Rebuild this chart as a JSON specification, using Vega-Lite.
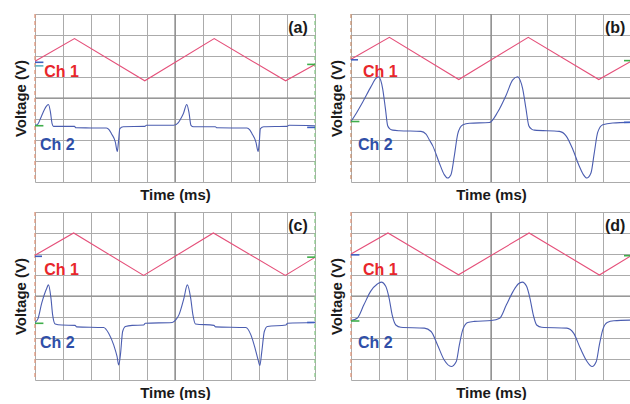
{
  "$schema": "https://vega.github.io/schema/vega-lite/v6.json",
  "padding": {"left": 13, "top": 13, "right": 0, "bottom": 0},
  "background": "white",
  "config": {
    "view": {"stroke": null},
    "font": "Liberation Sans",
    "axis": {"labels": false, "ticks": false, "domain": false, "grid": true, "gridColor": "#ababab", "gridWidth": 1, "titleFont": "Liberation Sans", "titleFontSize": 15, "titleFontWeight": "bold", "titleColor": "#1a1a1a"},
    "axisX": {"titlePadding": 5, "tickCount": 10},
    "axisY": {"titlePadding": 7, "tickCount": 8}
  },
  "data": {"values": [
    {"p":"a","c":"lbl","t":"(a)"},
    {"p":"b","c":"lbl","t":"(b)"},
    {"p":"c","c":"lbl","t":"(c)"},
    {"p":"d","c":"lbl","t":"(d)"},
    {"p":"a","c":"ch1","x":0,"y":5.75},{"p":"a","c":"ch1","x":1.41,"y":6.83},{"p":"a","c":"ch1","x":3.92,"y":4.82},{"p":"a","c":"ch1","x":6.40,"y":6.83},{"p":"a","c":"ch1","x":8.95,"y":4.82},{"p":"a","c":"ch1","x":10,"y":5.6},
    {"p":"b","c":"ch1","x":0,"y":5.85},{"p":"b","c":"ch1","x":1.37,"y":6.89},{"p":"b","c":"ch1","x":3.85,"y":4.88},{"p":"b","c":"ch1","x":6.33,"y":6.89},{"p":"b","c":"ch1","x":8.85,"y":4.88},{"p":"b","c":"ch1","x":10,"y":5.75},
    {"p":"c","c":"ch1","x":0,"y":5.94},{"p":"c","c":"ch1","x":1.38,"y":7.0},{"p":"c","c":"ch1","x":3.88,"y":4.98},{"p":"c","c":"ch1","x":6.37,"y":7.0},{"p":"c","c":"ch1","x":8.94,"y":4.98},{"p":"c","c":"ch1","x":10,"y":5.84},
    {"p":"d","c":"ch1","x":0,"y":6.0},{"p":"d","c":"ch1","x":1.32,"y":7.0},{"p":"d","c":"ch1","x":3.84,"y":5.01},{"p":"d","c":"ch1","x":6.36,"y":7.0},{"p":"d","c":"ch1","x":8.87,"y":5.0},{"p":"d","c":"ch1","x":10,"y":5.92},

    {"p":"a","c":"ch2","x":0,"y":2.70},{"p":"a","c":"ch2","x":0.1,"y":2.76},{"p":"a","c":"ch2","x":0.22,"y":3.10},{"p":"a","c":"ch2","x":0.39,"y":3.58},{"p":"a","c":"ch2","x":0.48,"y":3.69},{"p":"a","c":"ch2","x":0.55,"y":3.34},{"p":"a","c":"ch2","x":0.61,"y":2.78},{"p":"a","c":"ch2","x":0.66,"y":2.65},{"p":"a","c":"ch2","x":1.41,"y":2.65},{"p":"a","c":"ch2","x":1.46,"y":2.58},{"p":"a","c":"ch2","x":2.55,"y":2.57},{"p":"a","c":"ch2","x":2.65,"y":2.48},{"p":"a","c":"ch2","x":2.73,"y":2.30},{"p":"a","c":"ch2","x":2.87,"y":1.90},{"p":"a","c":"ch2","x":2.94,"y":1.45},{"p":"a","c":"ch2","x":2.98,"y":1.9},{"p":"a","c":"ch2","x":3.03,"y":2.54},{"p":"a","c":"ch2","x":3.15,"y":2.63},{"p":"a","c":"ch2","x":3.92,"y":2.65},{"p":"a","c":"ch2","x":3.98,"y":2.70},{"p":"a","c":"ch2","x":4.95,"y":2.70},{"p":"a","c":"ch2","x":5.12,"y":2.83},{"p":"a","c":"ch2","x":5.22,"y":3.05},{"p":"a","c":"ch2","x":5.30,"y":3.26},{"p":"a","c":"ch2","x":5.42,"y":3.69},{"p":"a","c":"ch2","x":5.50,"y":3.3},{"p":"a","c":"ch2","x":5.57,"y":2.70},{"p":"a","c":"ch2","x":5.66,"y":2.63},{"p":"a","c":"ch2","x":6.44,"y":2.63},{"p":"a","c":"ch2","x":6.50,"y":2.58},{"p":"a","c":"ch2","x":7.57,"y":2.57},{"p":"a","c":"ch2","x":7.67,"y":2.48},{"p":"a","c":"ch2","x":7.75,"y":2.30},{"p":"a","c":"ch2","x":7.89,"y":1.90},{"p":"a","c":"ch2","x":7.97,"y":1.45},{"p":"a","c":"ch2","x":8.01,"y":1.9},{"p":"a","c":"ch2","x":8.05,"y":2.54},{"p":"a","c":"ch2","x":8.17,"y":2.63},{"p":"a","c":"ch2","x":9.0,"y":2.65},{"p":"a","c":"ch2","x":9.07,"y":2.70},{"p":"a","c":"ch2","x":10,"y":2.68},

    {"p":"b","c":"ch2","x":0,"y":2.88},{"p":"b","c":"ch2","x":0.2,"y":3.3},{"p":"b","c":"ch2","x":0.42,"y":3.81},{"p":"b","c":"ch2","x":0.71,"y":4.53},{"p":"b","c":"ch2","x":0.89,"y":4.93},{"p":"b","c":"ch2","x":0.99,"y":5.01},{"p":"b","c":"ch2","x":1.06,"y":4.85},{"p":"b","c":"ch2","x":1.13,"y":4.45},{"p":"b","c":"ch2","x":1.23,"y":3.48},{"p":"b","c":"ch2","x":1.31,"y":2.68},{"p":"b","c":"ch2","x":1.40,"y":2.52},{"p":"b","c":"ch2","x":1.49,"y":2.47},{"p":"b","c":"ch2","x":1.73,"y":2.44},{"p":"b","c":"ch2","x":2.5,"y":2.41},{"p":"b","c":"ch2","x":2.68,"y":2.28},{"p":"b","c":"ch2","x":2.8,"y":2.0},{"p":"b","c":"ch2","x":2.92,"y":1.72},{"p":"b","c":"ch2","x":3.15,"y":0.92},{"p":"b","c":"ch2","x":3.33,"y":0.35},{"p":"b","c":"ch2","x":3.45,"y":0.19},{"p":"b","c":"ch2","x":3.57,"y":0.35},{"p":"b","c":"ch2","x":3.69,"y":1.24},{"p":"b","c":"ch2","x":3.81,"y":2.28},{"p":"b","c":"ch2","x":3.9,"y":2.6},{"p":"b","c":"ch2","x":4.0,"y":2.73},{"p":"b","c":"ch2","x":4.23,"y":2.80},{"p":"b","c":"ch2","x":4.94,"y":2.83},{"p":"b","c":"ch2","x":5.24,"y":3.33},{"p":"b","c":"ch2","x":5.54,"y":4.13},{"p":"b","c":"ch2","x":5.77,"y":4.85},{"p":"b","c":"ch2","x":5.95,"y":5.01},{"p":"b","c":"ch2","x":6.04,"y":4.85},{"p":"b","c":"ch2","x":6.13,"y":4.45},{"p":"b","c":"ch2","x":6.25,"y":3.48},{"p":"b","c":"ch2","x":6.35,"y":2.68},{"p":"b","c":"ch2","x":6.45,"y":2.52},{"p":"b","c":"ch2","x":6.55,"y":2.47},{"p":"b","c":"ch2","x":7.44,"y":2.41},{"p":"b","c":"ch2","x":7.68,"y":2.2},{"p":"b","c":"ch2","x":7.92,"y":1.56},{"p":"b","c":"ch2","x":8.15,"y":0.76},{"p":"b","c":"ch2","x":8.3,"y":0.35},{"p":"b","c":"ch2","x":8.42,"y":0.19},{"p":"b","c":"ch2","x":8.57,"y":0.43},{"p":"b","c":"ch2","x":8.69,"y":1.40},{"p":"b","c":"ch2","x":8.81,"y":2.36},{"p":"b","c":"ch2","x":8.99,"y":2.73},{"p":"b","c":"ch2","x":9.35,"y":2.81},{"p":"b","c":"ch2","x":10,"y":2.84},

    {"p":"c","c":"ch2","x":0,"y":2.74},{"p":"c","c":"ch2","x":0.1,"y":2.9},{"p":"c","c":"ch2","x":0.24,"y":3.66},{"p":"c","c":"ch2","x":0.42,"y":4.37},{"p":"c","c":"ch2","x":0.48,"y":4.53},{"p":"c","c":"ch2","x":0.57,"y":3.90},{"p":"c","c":"ch2","x":0.63,"y":3.10},{"p":"c","c":"ch2","x":0.72,"y":2.67},{"p":"c","c":"ch2","x":0.96,"y":2.62},{"p":"c","c":"ch2","x":1.43,"y":2.60},{"p":"c","c":"ch2","x":1.49,"y":2.53},{"p":"c","c":"ch2","x":2.45,"y":2.50},{"p":"c","c":"ch2","x":2.63,"y":2.23},{"p":"c","c":"ch2","x":2.81,"y":1.67},{"p":"c","c":"ch2","x":2.93,"y":1.12},{"p":"c","c":"ch2","x":2.99,"y":0.72},{"p":"c","c":"ch2","x":3.05,"y":1.19},{"p":"c","c":"ch2","x":3.13,"y":2.31},{"p":"c","c":"ch2","x":3.23,"y":2.55},{"p":"c","c":"ch2","x":3.47,"y":2.60},{"p":"c","c":"ch2","x":3.88,"y":2.62},{"p":"c","c":"ch2","x":3.94,"y":2.70},{"p":"c","c":"ch2","x":4.90,"y":2.74},{"p":"c","c":"ch2","x":5.02,"y":2.85},{"p":"c","c":"ch2","x":5.14,"y":3.10},{"p":"c","c":"ch2","x":5.32,"y":3.90},{"p":"c","c":"ch2","x":5.44,"y":4.53},{"p":"c","c":"ch2","x":5.56,"y":3.90},{"p":"c","c":"ch2","x":5.64,"y":3.10},{"p":"c","c":"ch2","x":5.73,"y":2.67},{"p":"c","c":"ch2","x":6.39,"y":2.60},{"p":"c","c":"ch2","x":6.45,"y":2.53},{"p":"c","c":"ch2","x":7.53,"y":2.50},{"p":"c","c":"ch2","x":7.71,"y":2.15},{"p":"c","c":"ch2","x":7.86,"y":1.51},{"p":"c","c":"ch2","x":7.97,"y":0.95},{"p":"c","c":"ch2","x":8.03,"y":0.69},{"p":"c","c":"ch2","x":8.10,"y":1.35},{"p":"c","c":"ch2","x":8.19,"y":2.31},{"p":"c","c":"ch2","x":8.30,"y":2.55},{"p":"c","c":"ch2","x":8.96,"y":2.62},{"p":"c","c":"ch2","x":9.02,"y":2.70},{"p":"c","c":"ch2","x":10,"y":2.74},

    {"p":"d","c":"ch2","x":0,"y":2.83},{"p":"d","c":"ch2","x":0.22,"y":2.94},{"p":"d","c":"ch2","x":0.46,"y":3.58},{"p":"d","c":"ch2","x":0.70,"y":4.22},{"p":"d","c":"ch2","x":0.94,"y":4.57},{"p":"d","c":"ch2","x":1.08,"y":4.66},{"p":"d","c":"ch2","x":1.24,"y":4.46},{"p":"d","c":"ch2","x":1.36,"y":3.90},{"p":"d","c":"ch2","x":1.47,"y":3.10},{"p":"d","c":"ch2","x":1.60,"y":2.62},{"p":"d","c":"ch2","x":1.78,"y":2.51},{"p":"d","c":"ch2","x":2.62,"y":2.47},{"p":"d","c":"ch2","x":2.86,"y":2.31},{"p":"d","c":"ch2","x":3.09,"y":1.67},{"p":"d","c":"ch2","x":3.33,"y":0.95},{"p":"d","c":"ch2","x":3.58,"y":0.64},{"p":"d","c":"ch2","x":3.76,"y":0.88},{"p":"d","c":"ch2","x":3.87,"y":1.67},{"p":"d","c":"ch2","x":3.99,"y":2.39},{"p":"d","c":"ch2","x":4.17,"y":2.74},{"p":"d","c":"ch2","x":4.41,"y":2.79},{"p":"d","c":"ch2","x":5.01,"y":2.83},{"p":"d","c":"ch2","x":5.31,"y":2.94},{"p":"d","c":"ch2","x":5.55,"y":3.58},{"p":"d","c":"ch2","x":5.79,"y":4.22},{"p":"d","c":"ch2","x":5.97,"y":4.57},{"p":"d","c":"ch2","x":6.12,"y":4.66},{"p":"d","c":"ch2","x":6.27,"y":4.46},{"p":"d","c":"ch2","x":6.39,"y":3.90},{"p":"d","c":"ch2","x":6.51,"y":3.10},{"p":"d","c":"ch2","x":6.63,"y":2.62},{"p":"d","c":"ch2","x":6.81,"y":2.51},{"p":"d","c":"ch2","x":7.71,"y":2.47},{"p":"d","c":"ch2","x":7.95,"y":2.23},{"p":"d","c":"ch2","x":8.19,"y":1.51},{"p":"d","c":"ch2","x":8.43,"y":0.88},{"p":"d","c":"ch2","x":8.61,"y":0.64},{"p":"d","c":"ch2","x":8.76,"y":0.88},{"p":"d","c":"ch2","x":8.87,"y":1.67},{"p":"d","c":"ch2","x":8.99,"y":2.39},{"p":"d","c":"ch2","x":9.15,"y":2.74},{"p":"d","c":"ch2","x":9.39,"y":2.82},{"p":"d","c":"ch2","x":10,"y":2.85},

    {"p":"a","c":"mb","x":0,"x2":0.3,"y":5.70},{"p":"a","c":"mc","x":0,"x2":0.3,"y":5.53},{"p":"a","c":"mg","x":0,"x2":0.3,"y":2.68},{"p":"a","c":"mg","x":9.72,"x2":10,"y":5.6},{"p":"a","c":"mb","x":9.72,"x2":10,"y":2.6},
    {"p":"b","c":"mb","x":0,"x2":0.25,"y":5.82},{"p":"b","c":"mg","x":0,"x2":0.3,"y":2.88},{"p":"b","c":"mg","x":9.75,"x2":10,"y":5.78},{"p":"b","c":"mb","x":9.75,"x2":10,"y":2.84},
    {"p":"c","c":"mb","x":0,"x2":0.25,"y":5.89},{"p":"c","c":"mg","x":0,"x2":0.3,"y":2.7},{"p":"c","c":"mg","x":9.72,"x2":10,"y":5.85},{"p":"c","c":"mb","x":9.72,"x2":10,"y":2.74},
    {"p":"d","c":"mb","x":0,"x2":0.3,"y":5.96},{"p":"d","c":"mg","x":0,"x2":0.3,"y":2.81},{"p":"d","c":"mg","x":9.75,"x2":10,"y":5.92}
  ]},
  "columns": 2,
  "spacing": {"row": 9, "column": 11},
  "concat": [
    {
      "width": 280, "height": 168,
      "transform": [{"filter": "datum.p === 'a'"}],
      "layer": [
        {"transform": [{"filter": "datum.c === 'lbl'"}], "mark": {"type": "rule", "color": "#858585", "strokeWidth": 1.2}, "encoding": {"x": {"datum": 5}}},
        {"transform": [{"filter": "datum.c === 'lbl'"}], "mark": {"type": "rule", "color": "#858585", "strokeWidth": 1.2}, "encoding": {"y": {"datum": 4}}},
        {"transform": [{"filter": "datum.c === 'lbl'"}], "mark": {"type": "rule", "strokeDash": [4, 3], "strokeWidth": 1.3, "color": "#e0977c"}, "encoding": {"x": {"datum": 0}}},
        {"transform": [{"filter": "datum.c === 'lbl'"}], "mark": {"type": "rule", "strokeDash": [4, 3], "strokeWidth": 1.3, "color": "#8ccb8c"}, "encoding": {"x": {"datum": 10}}},
        {"transform": [{"filter": "datum.c === 'ch1'"}], "mark": {"type": "line", "strokeWidth": 1.1, "color": "#e5507a"},
          "encoding": {
            "x": {"field": "x", "type": "quantitative", "scale": {"domain": [0, 10], "nice": false, "zero": false}, "title": "Time (ms)"},
            "y": {"field": "y", "type": "quantitative", "scale": {"domain": [0, 8], "nice": false, "zero": false}, "title": "Voltage (V)"}}},
        {"transform": [{"filter": "datum.c === 'ch2'"}], "mark": {"type": "line", "strokeWidth": 1.1, "interpolate": "monotone", "color": "#4b5db0"},
          "encoding": {"x": {"field": "x", "type": "quantitative"}, "y": {"field": "y", "type": "quantitative"}}},
        {"transform": [{"filter": "datum.c === 'mb' || datum.c === 'mc' || datum.c === 'mg'"}], "mark": {"type": "rule", "strokeWidth": 1.6},
          "encoding": {"x": {"field": "x", "type": "quantitative"}, "x2": {"field": "x2"}, "y": {"field": "y", "type": "quantitative"},
            "color": {"field": "c", "type": "nominal", "scale": {"domain": ["mb","mc","mg"], "range": ["#3f5fc0","#5fb2c2","#3fae4a"]}, "legend": null}}},
        {"transform": [{"filter": "datum.c === 'lbl'"}], "mark": {"type": "text", "align": "right", "baseline": "alphabetic", "fontSize": 16, "fontWeight": "bold", "font": "Liberation Sans", "color": "#1a1a1a"},
          "encoding": {"x": {"datum": 9.74}, "y": {"datum": 7.08}, "text": {"field": "t"}}},
        {"transform": [{"filter": "datum.c === 'lbl'"}], "mark": {"type": "text", "text": "Ch 1", "align": "left", "baseline": "alphabetic", "fontSize": 16, "fontWeight": "bold", "font": "Liberation Sans", "color": "#e8262b"},
          "encoding": {"x": {"datum": 0.33}, "y": {"datum": 5.0}}},
        {"transform": [{"filter": "datum.c === 'lbl'"}], "mark": {"type": "text", "text": "Ch 2", "align": "left", "baseline": "alphabetic", "fontSize": 16, "fontWeight": "bold", "font": "Liberation Sans", "color": "#2f4fa8"},
          "encoding": {"x": {"datum": 0.18}, "y": {"datum": 1.54}}}
      ]
    },
    {
      "width": 280, "height": 168,
      "transform": [{"filter": "datum.p === 'b'"}],
      "layer": [
        {"transform": [{"filter": "datum.c === 'lbl'"}], "mark": {"type": "rule", "color": "#858585", "strokeWidth": 1.2}, "encoding": {"x": {"datum": 5}}},
        {"transform": [{"filter": "datum.c === 'lbl'"}], "mark": {"type": "rule", "color": "#858585", "strokeWidth": 1.2}, "encoding": {"y": {"datum": 4}}},
        {"transform": [{"filter": "datum.c === 'lbl'"}], "mark": {"type": "rule", "strokeDash": [4, 3], "strokeWidth": 1.3, "color": "#c99270"}, "encoding": {"x": {"datum": 0}}},
        {"transform": [{"filter": "datum.c === 'ch1'"}], "mark": {"type": "line", "strokeWidth": 1.1, "color": "#e5507a"},
          "encoding": {
            "x": {"field": "x", "type": "quantitative", "scale": {"domain": [0, 10], "nice": false, "zero": false}, "title": "Time (ms)"},
            "y": {"field": "y", "type": "quantitative", "scale": {"domain": [0, 8], "nice": false, "zero": false}, "title": "Voltage (V)"}}},
        {"transform": [{"filter": "datum.c === 'ch2'"}], "mark": {"type": "line", "strokeWidth": 1.1, "interpolate": "monotone", "color": "#4b5db0"},
          "encoding": {"x": {"field": "x", "type": "quantitative"}, "y": {"field": "y", "type": "quantitative"}}},
        {"transform": [{"filter": "datum.c === 'mb' || datum.c === 'mc' || datum.c === 'mg'"}], "mark": {"type": "rule", "strokeWidth": 1.6},
          "encoding": {"x": {"field": "x", "type": "quantitative"}, "x2": {"field": "x2"}, "y": {"field": "y", "type": "quantitative"},
            "color": {"field": "c", "type": "nominal", "scale": {"domain": ["mb","mc","mg"], "range": ["#3f5fc0","#5fb2c2","#3fae4a"]}, "legend": null}}},
        {"transform": [{"filter": "datum.c === 'lbl'"}], "mark": {"type": "text", "align": "right", "baseline": "alphabetic", "fontSize": 16, "fontWeight": "bold", "font": "Liberation Sans", "color": "#1a1a1a"},
          "encoding": {"x": {"datum": 9.8}, "y": {"datum": 7.08}, "text": {"field": "t"}}},
        {"transform": [{"filter": "datum.c === 'lbl'"}], "mark": {"type": "text", "text": "Ch 1", "align": "left", "baseline": "alphabetic", "fontSize": 16, "fontWeight": "bold", "font": "Liberation Sans", "color": "#e8262b"},
          "encoding": {"x": {"datum": 0.43}, "y": {"datum": 5.0}}},
        {"transform": [{"filter": "datum.c === 'lbl'"}], "mark": {"type": "text", "text": "Ch 2", "align": "left", "baseline": "alphabetic", "fontSize": 16, "fontWeight": "bold", "font": "Liberation Sans", "color": "#2f4fa8"},
          "encoding": {"x": {"datum": 0.25}, "y": {"datum": 1.54}}}
      ]
    },
    {
      "width": 280, "height": 168,
      "transform": [{"filter": "datum.p === 'c'"}],
      "layer": [
        {"transform": [{"filter": "datum.c === 'lbl'"}], "mark": {"type": "rule", "color": "#858585", "strokeWidth": 1.2}, "encoding": {"x": {"datum": 5}}},
        {"transform": [{"filter": "datum.c === 'lbl'"}], "mark": {"type": "rule", "color": "#858585", "strokeWidth": 1.2}, "encoding": {"y": {"datum": 4}}},
        {"transform": [{"filter": "datum.c === 'lbl'"}], "mark": {"type": "rule", "strokeDash": [4, 3], "strokeWidth": 1.3, "color": "#e0977c"}, "encoding": {"x": {"datum": 0}}},
        {"transform": [{"filter": "datum.c === 'lbl'"}], "mark": {"type": "rule", "strokeDash": [4, 3], "strokeWidth": 1.3, "color": "#8ccb8c"}, "encoding": {"x": {"datum": 10}}},
        {"transform": [{"filter": "datum.c === 'ch1'"}], "mark": {"type": "line", "strokeWidth": 1.1, "color": "#e5507a"},
          "encoding": {
            "x": {"field": "x", "type": "quantitative", "scale": {"domain": [0, 10], "nice": false, "zero": false}, "title": "Time (ms)"},
            "y": {"field": "y", "type": "quantitative", "scale": {"domain": [0, 8], "nice": false, "zero": false}, "title": "Voltage (V)"}}},
        {"transform": [{"filter": "datum.c === 'ch2'"}], "mark": {"type": "line", "strokeWidth": 1.1, "interpolate": "monotone", "color": "#4b5db0"},
          "encoding": {"x": {"field": "x", "type": "quantitative"}, "y": {"field": "y", "type": "quantitative"}}},
        {"transform": [{"filter": "datum.c === 'mb' || datum.c === 'mc' || datum.c === 'mg'"}], "mark": {"type": "rule", "strokeWidth": 1.6},
          "encoding": {"x": {"field": "x", "type": "quantitative"}, "x2": {"field": "x2"}, "y": {"field": "y", "type": "quantitative"},
            "color": {"field": "c", "type": "nominal", "scale": {"domain": ["mb","mc","mg"], "range": ["#3f5fc0","#5fb2c2","#3fae4a"]}, "legend": null}}},
        {"transform": [{"filter": "datum.c === 'lbl'"}], "mark": {"type": "text", "align": "right", "baseline": "alphabetic", "fontSize": 16, "fontWeight": "bold", "font": "Liberation Sans", "color": "#1a1a1a"},
          "encoding": {"x": {"datum": 9.74}, "y": {"datum": 7.08}, "text": {"field": "t"}}},
        {"transform": [{"filter": "datum.c === 'lbl'"}], "mark": {"type": "text", "text": "Ch 1", "align": "left", "baseline": "alphabetic", "fontSize": 16, "fontWeight": "bold", "font": "Liberation Sans", "color": "#e8262b"},
          "encoding": {"x": {"datum": 0.33}, "y": {"datum": 5.0}}},
        {"transform": [{"filter": "datum.c === 'lbl'"}], "mark": {"type": "text", "text": "Ch 2", "align": "left", "baseline": "alphabetic", "fontSize": 16, "fontWeight": "bold", "font": "Liberation Sans", "color": "#2f4fa8"},
          "encoding": {"x": {"datum": 0.18}, "y": {"datum": 1.54}}}
      ]
    },
    {
      "width": 280, "height": 168,
      "transform": [{"filter": "datum.p === 'd'"}],
      "layer": [
        {"transform": [{"filter": "datum.c === 'lbl'"}], "mark": {"type": "rule", "color": "#858585", "strokeWidth": 1.2}, "encoding": {"x": {"datum": 5}}},
        {"transform": [{"filter": "datum.c === 'lbl'"}], "mark": {"type": "rule", "color": "#858585", "strokeWidth": 1.2}, "encoding": {"y": {"datum": 4}}},
        {"transform": [{"filter": "datum.c === 'lbl'"}], "mark": {"type": "rule", "strokeDash": [4, 3], "strokeWidth": 1.3, "color": "#e0977c"}, "encoding": {"x": {"datum": 0}}},
        {"transform": [{"filter": "datum.c === 'ch1'"}], "mark": {"type": "line", "strokeWidth": 1.1, "color": "#e5507a"},
          "encoding": {
            "x": {"field": "x", "type": "quantitative", "scale": {"domain": [0, 10], "nice": false, "zero": false}, "title": "Time (ms)"},
            "y": {"field": "y", "type": "quantitative", "scale": {"domain": [0, 8], "nice": false, "zero": false}, "title": "Voltage (V)"}}},
        {"transform": [{"filter": "datum.c === 'ch2'"}], "mark": {"type": "line", "strokeWidth": 1.1, "interpolate": "monotone", "color": "#4b5db0"},
          "encoding": {"x": {"field": "x", "type": "quantitative"}, "y": {"field": "y", "type": "quantitative"}}},
        {"transform": [{"filter": "datum.c === 'mb' || datum.c === 'mc' || datum.c === 'mg'"}], "mark": {"type": "rule", "strokeWidth": 1.6},
          "encoding": {"x": {"field": "x", "type": "quantitative"}, "x2": {"field": "x2"}, "y": {"field": "y", "type": "quantitative"},
            "color": {"field": "c", "type": "nominal", "scale": {"domain": ["mb","mc","mg"], "range": ["#3f5fc0","#5fb2c2","#3fae4a"]}, "legend": null}}},
        {"transform": [{"filter": "datum.c === 'lbl'"}], "mark": {"type": "text", "align": "right", "baseline": "alphabetic", "fontSize": 16, "fontWeight": "bold", "font": "Liberation Sans", "color": "#1a1a1a"},
          "encoding": {"x": {"datum": 9.8}, "y": {"datum": 7.08}, "text": {"field": "t"}}},
        {"transform": [{"filter": "datum.c === 'lbl'"}], "mark": {"type": "text", "text": "Ch 1", "align": "left", "baseline": "alphabetic", "fontSize": 16, "fontWeight": "bold", "font": "Liberation Sans", "color": "#e8262b"},
          "encoding": {"x": {"datum": 0.43}, "y": {"datum": 5.0}}},
        {"transform": [{"filter": "datum.c === 'lbl'"}], "mark": {"type": "text", "text": "Ch 2", "align": "left", "baseline": "alphabetic", "fontSize": 16, "fontWeight": "bold", "font": "Liberation Sans", "color": "#2f4fa8"},
          "encoding": {"x": {"datum": 0.25}, "y": {"datum": 1.54}}}
      ]
    }
  ]
}
